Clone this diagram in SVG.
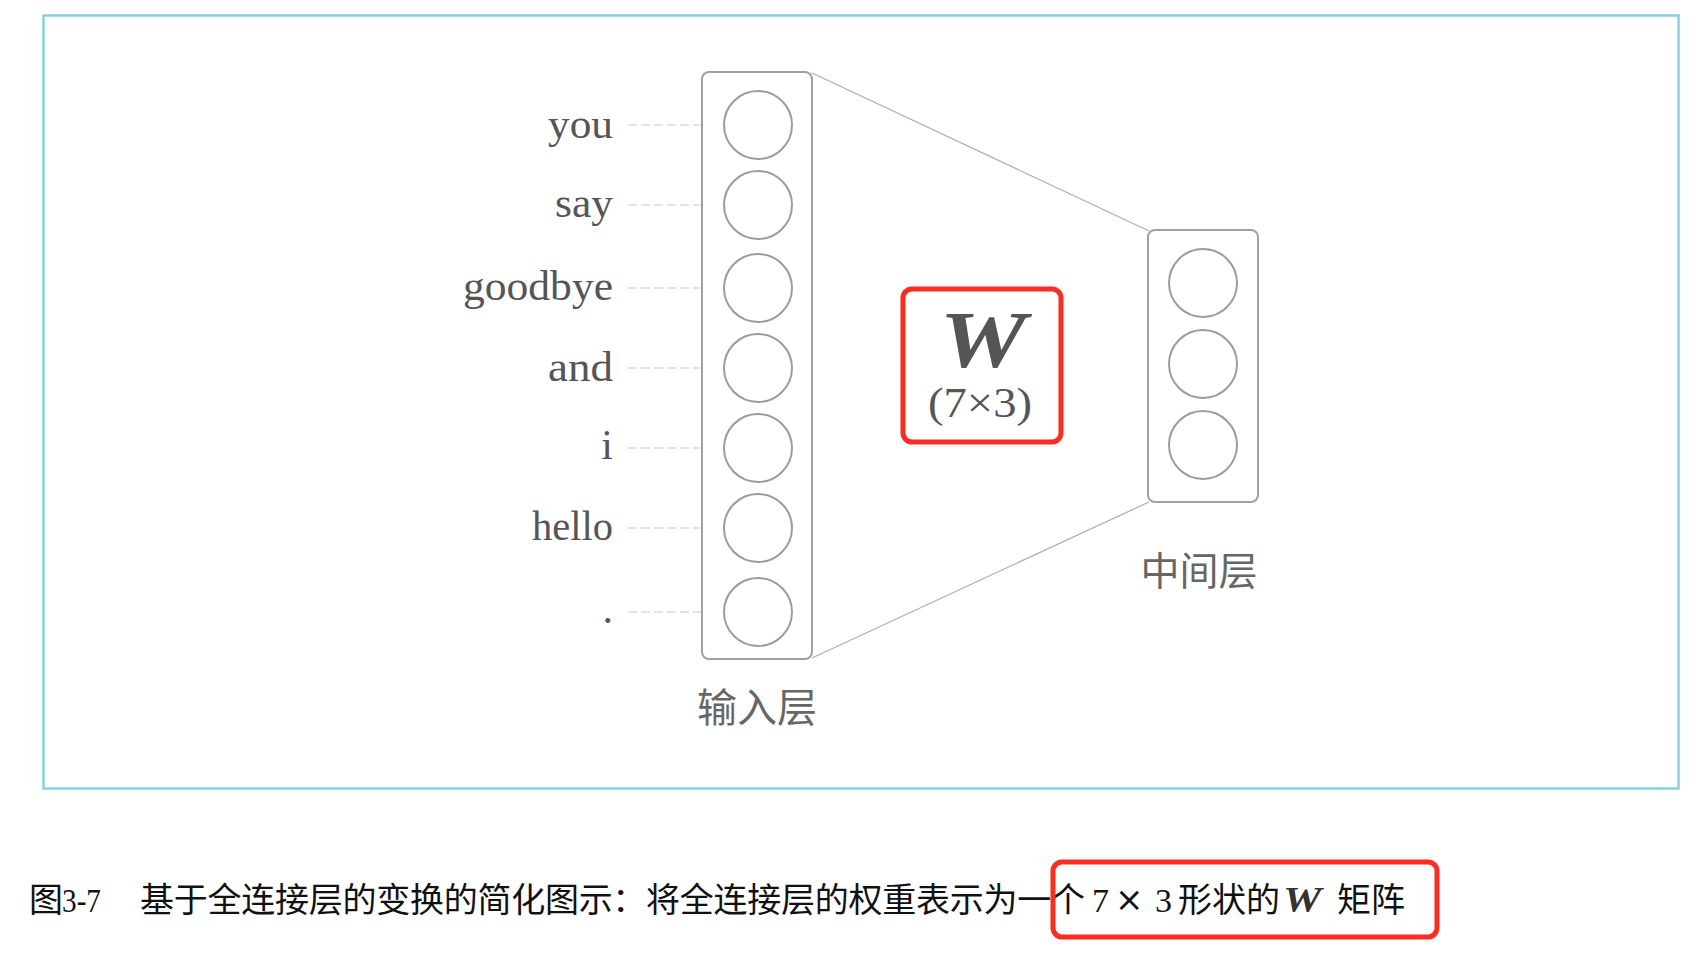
<svg xmlns="http://www.w3.org/2000/svg" width="1704" height="962" viewBox="0 0 1704 962">
<style>
.bg{fill:#ffffff}
.frame{fill:none;stroke:#88d0e2;stroke-width:2.5}
.layer{fill:#ffffff;stroke:#a0a0a0;stroke-width:2}
.unit{fill:#ffffff;stroke:#9c9c9c;stroke-width:2}
.edge{fill:none;stroke:#b0b0b0;stroke-width:1.3}
.dash{fill:none;stroke:#dcdcdc;stroke-width:1.5;stroke-dasharray:9 4}
.word{font-family:"Liberation Serif","DejaVu Serif",serif;font-size:42px;fill:#555555;text-anchor:end}
.cjk{font-family:"Noto Sans CJK SC",sans-serif;fill:#666666;text-anchor:middle}
.hl{fill:none;stroke:#fb2c21;stroke-width:5}
.cap{font-family:"Noto Sans CJK SC",sans-serif;font-size:34px;fill:#111111}
.capl{font-family:"Liberation Serif","DejaVu Serif",serif;font-size:34px;fill:#111111}
</style>
<rect class="bg" x="0" y="0" width="1704" height="962"/>
<rect class="frame" x="43.5" y="15.5" width="1635" height="773"/>

<g id="connectors">
<line class="edge" x1="812" y1="73" x2="1149" y2="231"/>
<line class="edge" x1="812" y1="658" x2="1149" y2="502"/>
<line class="dash" x1="628" y1="125" x2="724" y2="125"/>
<line class="dash" x1="628" y1="205" x2="724" y2="205"/>
<line class="dash" x1="628" y1="288" x2="724" y2="288"/>
<line class="dash" x1="628" y1="368" x2="724" y2="368"/>
<line class="dash" x1="628" y1="448" x2="724" y2="448"/>
<line class="dash" x1="628" y1="528" x2="724" y2="528"/>
<line class="dash" x1="628" y1="612" x2="724" y2="612"/>
</g>

<g id="input-layer">
<rect class="layer" x="702" y="72" width="110" height="587" rx="7"/>
<circle class="unit" cx="758" cy="125" r="34"/>
<circle class="unit" cx="758" cy="205" r="34"/>
<circle class="unit" cx="758" cy="288" r="34"/>
<circle class="unit" cx="758" cy="368" r="34"/>
<circle class="unit" cx="758" cy="448" r="34"/>
<circle class="unit" cx="758" cy="528" r="34"/>
<circle class="unit" cx="758" cy="612" r="34"/>
<text class="cjk" x="757" y="722" font-size="40">输入层</text>
</g>

<g id="input-labels">
<text class="word" x="613" y="138" textLength="65" lengthAdjust="spacingAndGlyphs">you</text>
<text class="word" x="613" y="217" textLength="58" lengthAdjust="spacingAndGlyphs">say</text>
<text class="word" x="613" y="300" textLength="150" lengthAdjust="spacingAndGlyphs">goodbye</text>
<text class="word" x="613" y="381" textLength="65" lengthAdjust="spacingAndGlyphs">and</text>
<text class="word" x="613" y="459">i</text>
<text class="word" x="613" y="540" textLength="81" lengthAdjust="spacingAndGlyphs">hello</text>
<text class="word" x="613" y="623">.</text>
</g>

<g id="middle-layer">
<rect class="layer" x="1148" y="230" width="110" height="272" rx="7"/>
<circle class="unit" cx="1203" cy="283" r="34"/>
<circle class="unit" cx="1203" cy="364" r="34"/>
<circle class="unit" cx="1203" cy="445" r="34"/>
<text class="cjk" x="1199" y="585" font-size="39">中间层</text>
</g>

<g id="weight">
<rect class="hl" x="903" y="289" width="158" height="153" rx="9"/>
<text transform="translate(983,367) scale(1.22,1)" text-anchor="middle" font-family="Liberation Serif, DejaVu Serif, serif" font-weight="bold" font-style="italic" font-size="80" fill="#555555">W</text>
<text x="980" y="417" text-anchor="middle" font-family="Liberation Serif, DejaVu Serif, serif" font-size="42" fill="#555555" textLength="104" lengthAdjust="spacingAndGlyphs">(7×3)</text>
</g>

<g id="caption">
<text class="cap" x="29" y="912" font-size="32">图</text>
<text class="capl" x="62" y="912" textLength="39" lengthAdjust="spacingAndGlyphs">3-7</text>
<text class="cap" x="140" y="912" textLength="945" lengthAdjust="spacing">基于全连接层的变换的简化图示：将全连接层的权重表示为一个</text>
<text class="capl" x="1092" y="912">7</text>
<text x="1115" y="911" font-family="DejaVu Sans, sans-serif" font-size="34" fill="#111111">×</text>
<text class="capl" x="1155" y="912">3</text>
<text class="cap" x="1178" y="912" font-size="30">形状的</text>
<text transform="translate(1283,912) scale(1.2,1)" font-family="Liberation Serif, DejaVu Serif, serif" font-weight="bold" font-style="italic" font-size="36" fill="#333333">W</text>
<text class="cap" x="1337" y="912" font-size="32">矩阵</text>
<rect class="hl" x="1053" y="862" width="384" height="75" rx="9"/>
</g>
</svg>
